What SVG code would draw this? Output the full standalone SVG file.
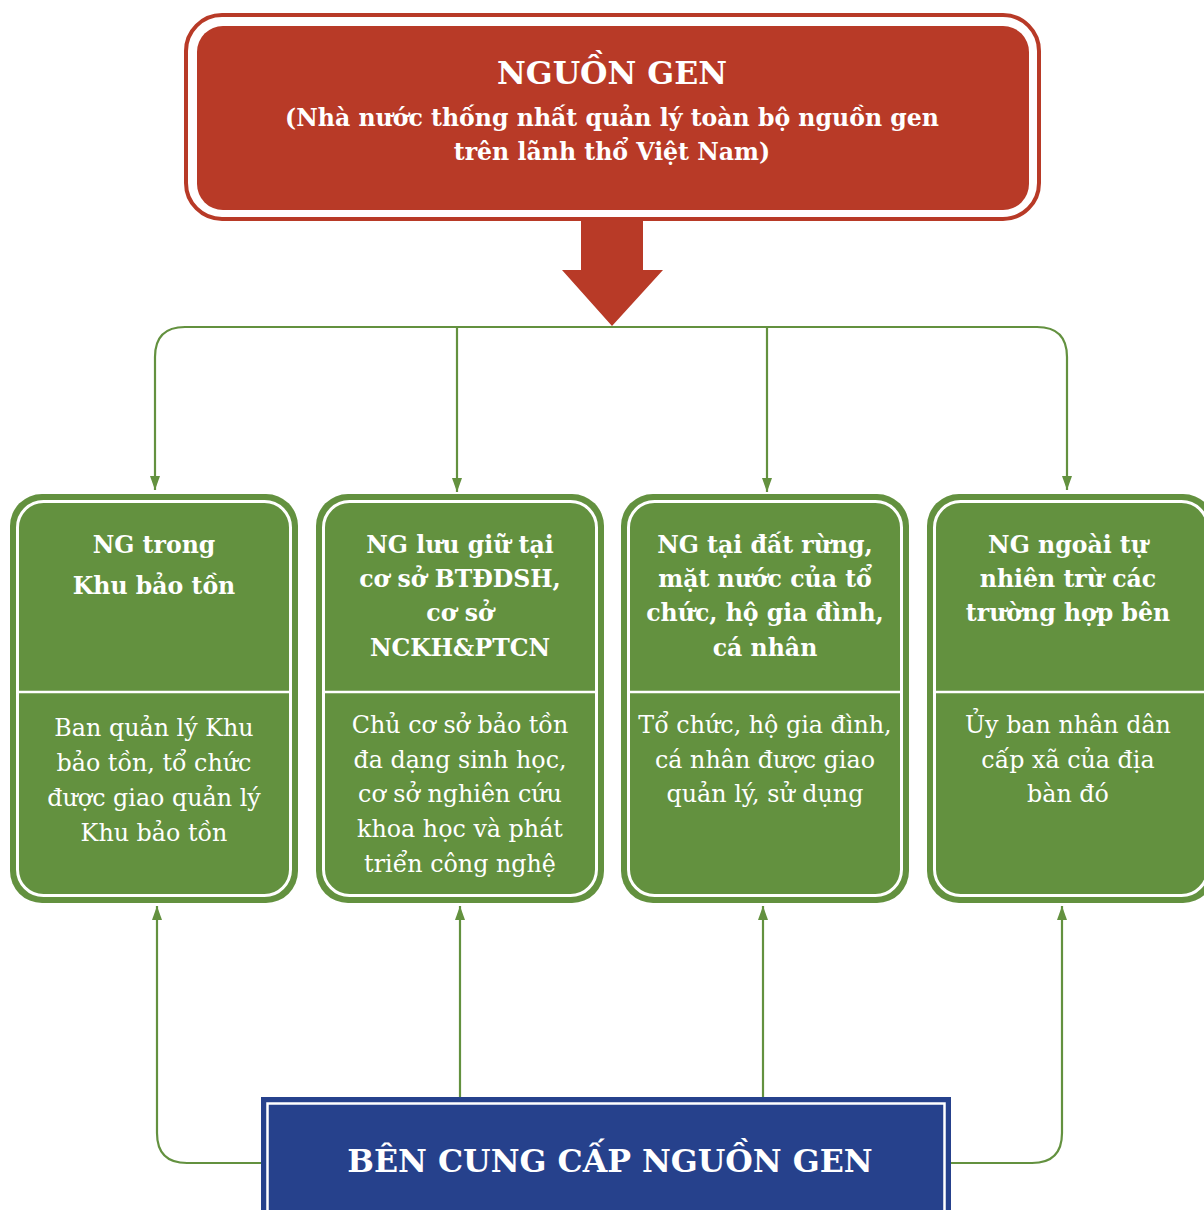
<svg xmlns="http://www.w3.org/2000/svg" width="1204" height="1210" viewBox="0 0 1204 1210">
<defs>
<style>
.t{font-family:"DejaVu Serif","Liberation Serif",serif;fill:#fff;text-anchor:middle}
.b{font-weight:bold}
.hd{font-size:23.6px;font-weight:bold}
.bd{font-size:23.8px}
.conn{fill:none;stroke:#63913f;stroke-width:2.2}
.gbox{fill:#63913f}
.gin{fill:none;stroke:#fff;stroke-width:3}
.div{stroke:#fff;stroke-width:2.5}
</style>
<marker id="ah" viewBox="0 0 14 10" refX="14" refY="5" markerWidth="14" markerHeight="10" markerUnits="userSpaceOnUse" orient="auto">
<path d="M0,0 L14,5 L0,10 z" fill="#63913f"/>
</marker>
</defs>
<rect width="1204" height="1210" fill="#fff"/>

<g id="connectors">
<path class="conn" d="M185,327 H1037"/>
<path class="conn" d="M185,327 Q155,327 155,357 V490" marker-end="url(#ah)"/>
<path class="conn" d="M1037,327 Q1067,327 1067,357 V490" marker-end="url(#ah)"/>
<path class="conn" d="M457,327 V492" marker-end="url(#ah)"/>
<path class="conn" d="M767,327 V492" marker-end="url(#ah)"/>
<path class="conn" d="M263,1163 H187 Q157,1163 157,1133 V906" marker-end="url(#ah)"/>
<path class="conn" d="M460,1098 V906" marker-end="url(#ah)"/>
<path class="conn" d="M763,1098 V906" marker-end="url(#ah)"/>
<path class="conn" d="M950,1163 H1032 Q1062,1163 1062,1133 V906" marker-end="url(#ah)"/>
<path id="big-arrow" d="M581,219 H643 V270 H663 L612,326 L562,270 H581 Z" fill="#b83a27"/>
</g>

<g id="nguon-gen">
<rect x="186" y="15" width="853" height="204" rx="36" fill="#fff" stroke="#b83a27" stroke-width="4"/>
<rect x="197" y="26" width="832" height="184" rx="26" fill="#b83a27"/>
<text class="t b" x="612" y="84" font-size="31.5">NGUỒN GEN</text>
<text class="t b" x="612" y="126" font-size="23.6">(Nhà nước thống nhất quản lý toàn bộ nguồn gen</text>
<text class="t b" x="612" y="160" font-size="23.6">trên lãnh thổ Việt Nam)</text>
</g>

<g id="box1">
<rect class="gbox" x="10" y="494" width="288" height="409" rx="32"/>
<rect class="gin" x="17.5" y="501.5" width="273" height="394" rx="26"/>
<line class="div" x1="19" y1="692" x2="289" y2="692"/>
<text class="t hd" x="154" y="553">NG trong</text>
<text class="t hd" x="154" y="594">Khu bảo tồn</text>
<text class="t bd" x="154" y="736">Ban quản lý Khu</text>
<text class="t bd" x="154" y="771">bảo tồn, tổ chức</text>
<text class="t bd" x="154" y="806">được giao quản lý</text>
<text class="t bd" x="154" y="841">Khu bảo tồn</text>
</g>

<g id="box2">
<rect class="gbox" x="316" y="494" width="288" height="409" rx="32"/>
<rect class="gin" x="323.5" y="501.5" width="273" height="394" rx="26"/>
<line class="div" x1="325" y1="692" x2="595" y2="692"/>
<text class="t hd" x="460" y="553">NG lưu giữ tại</text>
<text class="t hd" x="460" y="587">cơ sở BTĐDSH,</text>
<text class="t hd" x="460" y="621">cơ sở</text>
<text class="t hd" x="460" y="656">NCKH&amp;PTCN</text>
<text class="t bd" x="460" y="733">Chủ cơ sở bảo tồn</text>
<text class="t bd" x="460" y="768">đa dạng sinh học,</text>
<text class="t bd" x="460" y="802">cơ sở nghiên cứu</text>
<text class="t bd" x="460" y="837">khoa học và phát</text>
<text class="t bd" x="460" y="872">triển công nghệ</text>
</g>

<g id="box3">
<rect class="gbox" x="621" y="494" width="288" height="409" rx="32"/>
<rect class="gin" x="628.5" y="501.5" width="273" height="394" rx="26"/>
<line class="div" x1="630" y1="692" x2="900" y2="692"/>
<text class="t hd" x="765" y="553">NG tại đất rừng,</text>
<text class="t hd" x="765" y="587">mặt nước của tổ</text>
<text class="t hd" x="765" y="621">chức, hộ gia đình,</text>
<text class="t hd" x="765" y="656">cá nhân</text>
<text class="t bd" x="765" y="733">Tổ chức, hộ gia đình,</text>
<text class="t bd" x="765" y="768">cá nhân được giao</text>
<text class="t bd" x="765" y="802">quản lý, sử dụng</text>
</g>

<g id="box4">
<rect class="gbox" x="927" y="494" width="288" height="409" rx="32"/>
<rect class="gin" x="934.5" y="501.5" width="273" height="394" rx="26"/>
<line class="div" x1="936" y1="692" x2="1206" y2="692"/>
<text class="t hd" x="1068" y="553">NG ngoài tự</text>
<text class="t hd" x="1068" y="587">nhiên trừ các</text>
<text class="t hd" x="1068" y="621">trường hợp bên</text>
<text class="t bd" x="1068" y="733">Ủy ban nhân dân</text>
<text class="t bd" x="1068" y="768">cấp xã của địa</text>
<text class="t bd" x="1068" y="802">bàn đó</text>
</g>

<g id="ben-cung-cap">
<rect x="261" y="1097" width="690" height="125" fill="#26418c"/>
<rect x="267.5" y="1103.5" width="677" height="120" fill="none" stroke="#fff" stroke-width="2.5"/>
<text class="t b" x="610" y="1172" font-size="31.6">BÊN CUNG CẤP NGUỒN GEN</text>
</g>
</svg>
